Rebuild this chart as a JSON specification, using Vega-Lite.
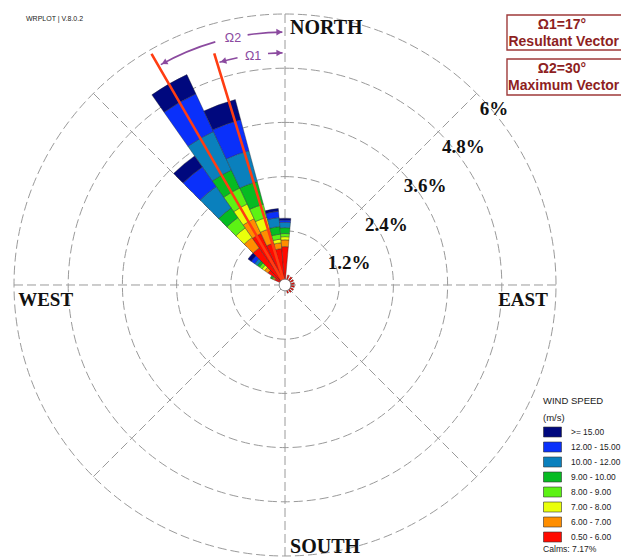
{
  "$schema": "https://vega.github.io/schema/vega-lite/v6.json",
  "width": 621,
  "height": 560,
  "autosize": "none",
  "padding": 0,
  "background": "white",
  "config": {"view": {"stroke": null}},
  "datasets": {
    "rings": [{"r": 1.2}, {"r": 2.4}, {"r": 3.6}, {"r": 4.8}, {"r": 6}],
    "spokes": [
      {"x": 0, "y": -6, "x2": 0, "y2": 6},
      {"x": -6, "y": 0, "x2": 6, "y2": 0},
      {"x": -4.2426, "y": -4.2426, "x2": 4.2426, "y2": 4.2426},
      {"x": -4.2426, "y": 4.2426, "x2": 4.2426, "y2": -4.2426}
    ],
    "petals": [
      {"a0": 325, "a1": 335, "r0": 0, "r1": 1.26, "speed": "0.50 - 6.00"},
      {"a0": 325, "a1": 335, "r0": 1.26, "r1": 1.62, "speed": "6.00 - 7.00"},
      {"a0": 325, "a1": 335, "r0": 1.62, "r1": 1.98, "speed": "7.00 - 8.00"},
      {"a0": 325, "a1": 335, "r0": 1.98, "r1": 2.37, "speed": "8.00 - 9.00"},
      {"a0": 325, "a1": 335, "r0": 2.37, "r1": 2.81, "speed": "9.00 - 10.00"},
      {"a0": 325, "a1": 335, "r0": 2.81, "r1": 3.75, "speed": "10.00 - 12.00"},
      {"a0": 325, "a1": 335, "r0": 3.75, "r1": 4.67, "speed": "12.00 - 15.00"},
      {"a0": 325, "a1": 335, "r0": 4.67, "r1": 5.14, "speed": ">= 15.00"},

      {"a0": 335, "a1": 345, "r0": 0, "r1": 0.96, "speed": "0.50 - 6.00"},
      {"a0": 335, "a1": 345, "r0": 0.96, "r1": 1.29, "speed": "6.00 - 7.00"},
      {"a0": 335, "a1": 345, "r0": 1.29, "r1": 1.55, "speed": "7.00 - 8.00"},
      {"a0": 335, "a1": 345, "r0": 1.55, "r1": 1.85, "speed": "8.00 - 9.00"},
      {"a0": 335, "a1": 345, "r0": 1.85, "r1": 2.37, "speed": "9.00 - 10.00"},
      {"a0": 335, "a1": 345, "r0": 2.37, "r1": 3.08, "speed": "10.00 - 12.00"},
      {"a0": 335, "a1": 345, "r0": 3.08, "r1": 3.79, "speed": "12.00 - 15.00"},
      {"a0": 335, "a1": 345, "r0": 3.79, "r1": 4.25, "speed": ">= 15.00"},

      {"a0": 315, "a1": 325, "r0": 0, "r1": 1.0, "speed": "0.50 - 6.00"},
      {"a0": 315, "a1": 325, "r0": 1.0, "r1": 1.28, "speed": "6.00 - 7.00"},
      {"a0": 315, "a1": 325, "r0": 1.28, "r1": 1.54, "speed": "7.00 - 8.00"},
      {"a0": 315, "a1": 325, "r0": 1.54, "r1": 1.82, "speed": "8.00 - 9.00"},
      {"a0": 315, "a1": 325, "r0": 1.82, "r1": 2.08, "speed": "9.00 - 10.00"},
      {"a0": 315, "a1": 325, "r0": 2.08, "r1": 2.66, "speed": "10.00 - 12.00"},
      {"a0": 315, "a1": 325, "r0": 2.66, "r1": 3.19, "speed": "12.00 - 15.00"},
      {"a0": 315, "a1": 325, "r0": 3.19, "r1": 3.49, "speed": ">= 15.00"},

      {"a0": 345, "a1": 355, "r0": 0, "r1": 0.81, "speed": "0.50 - 6.00"},
      {"a0": 345, "a1": 355, "r0": 0.81, "r1": 0.94, "speed": "6.00 - 7.00"},
      {"a0": 345, "a1": 355, "r0": 0.94, "r1": 1.02, "speed": "7.00 - 8.00"},
      {"a0": 345, "a1": 355, "r0": 1.02, "r1": 1.13, "speed": "8.00 - 9.00"},
      {"a0": 345, "a1": 355, "r0": 1.13, "r1": 1.3, "speed": "9.00 - 10.00"},
      {"a0": 345, "a1": 355, "r0": 1.3, "r1": 1.5, "speed": "10.00 - 12.00"},
      {"a0": 345, "a1": 355, "r0": 1.5, "r1": 1.64, "speed": "12.00 - 15.00"},
      {"a0": 345, "a1": 355, "r0": 1.64, "r1": 1.7, "speed": ">= 15.00"},

      {"a0": -5, "a1": 5, "r0": 0, "r1": 0.85, "speed": "0.50 - 6.00"},
      {"a0": -5, "a1": 5, "r0": 0.85, "r1": 1.0, "speed": "6.00 - 7.00"},
      {"a0": -5, "a1": 5, "r0": 1.0, "r1": 1.07, "speed": "7.00 - 8.00"},
      {"a0": -5, "a1": 5, "r0": 1.07, "r1": 1.14, "speed": "8.00 - 9.00"},
      {"a0": -5, "a1": 5, "r0": 1.14, "r1": 1.27, "speed": "9.00 - 10.00"},
      {"a0": -5, "a1": 5, "r0": 1.27, "r1": 1.39, "speed": "10.00 - 12.00"},
      {"a0": -5, "a1": 5, "r0": 1.39, "r1": 1.44, "speed": "12.00 - 15.00"},
      {"a0": -5, "a1": 5, "r0": 1.44, "r1": 1.48, "speed": ">= 15.00"},

      {"a0": 305, "a1": 315, "r0": 0, "r1": 0.46, "speed": "0.50 - 6.00"},
      {"a0": 305, "a1": 315, "r0": 0.46, "r1": 0.55, "speed": "6.00 - 7.00"},
      {"a0": 305, "a1": 315, "r0": 0.55, "r1": 0.62, "speed": "7.00 - 8.00"},
      {"a0": 305, "a1": 315, "r0": 0.62, "r1": 0.69, "speed": "8.00 - 9.00"},
      {"a0": 305, "a1": 315, "r0": 0.69, "r1": 0.75, "speed": "9.00 - 10.00"},
      {"a0": 305, "a1": 315, "r0": 0.75, "r1": 0.82, "speed": "10.00 - 12.00"},
      {"a0": 305, "a1": 315, "r0": 0.82, "r1": 0.91, "speed": "12.00 - 15.00"},
      {"a0": 305, "a1": 315, "r0": 0.91, "r1": 1.0, "speed": ">= 15.00"},

      {"a0": 295, "a1": 305, "r0": 0, "r1": 0.25, "speed": "0.50 - 6.00"},
      {"a0": 295, "a1": 305, "r0": 0.25, "r1": 0.28, "speed": "6.00 - 7.00"},
      {"a0": 295, "a1": 305, "r0": 0.28, "r1": 0.3, "speed": "7.00 - 8.00"},
      {"a0": 295, "a1": 305, "r0": 0.3, "r1": 0.32, "speed": "8.00 - 9.00"},
      {"a0": 295, "a1": 305, "r0": 0.32, "r1": 0.36, "speed": "9.00 - 10.00"},

      {"a0": 15, "a1": 25, "r0": 0, "r1": 0.23, "speed": "0.50 - 6.00"},
      {"a0": 35, "a1": 45, "r0": 0, "r1": 0.22, "speed": "0.50 - 6.00"},
      {"a0": 55, "a1": 65, "r0": 0, "r1": 0.21, "speed": "0.50 - 6.00"},
      {"a0": 75, "a1": 85, "r0": 0, "r1": 0.21, "speed": "0.50 - 6.00"},
      {"a0": 95, "a1": 105, "r0": 0, "r1": 0.21, "speed": "0.50 - 6.00"},
      {"a0": 115, "a1": 125, "r0": 0, "r1": 0.21, "speed": "0.50 - 6.00"},
      {"a0": 135, "a1": 145, "r0": 0, "r1": 0.2, "speed": "0.50 - 6.00"},
      {"a0": 155, "a1": 165, "r0": 0, "r1": 0.19, "speed": "0.50 - 6.00"}
    ],
    "vectors": [
      {"name": "Resultant", "bearing": 343, "len": 5.36},
      {"name": "Maximum", "bearing": 330, "len": 5.91}
    ],
    "calm": [{"r": 0.13}],
    "omegaArcs": [
      {"a0": 330.6, "a1": 344, "r": 5.6},
      {"a0": 351.5, "a1": 359.4, "r": 5.6},
      {"a0": 343.6, "a1": 348.2, "r": 5.14},
      {"a0": 355.8, "a1": 359.4, "r": 5.14}
    ],
    "arrowHeads": [
      {"x": -0.127, "y": 5.5986, "angle": 358.7},
      {"x": -2.6724, "y": 4.9215, "angle": 151.5},
      {"x": -0.1256, "y": 5.1385, "angle": 358.6},
      {"x": -1.365, "y": 4.9556, "angle": 164.6}
    ],
    "omegaText": [
      {"x": -1.151, "y": 5.469, "text": "Ω2"},
      {"x": -0.708, "y": 5.07, "text": "Ω1"}
    ],
    "pctText": [
      {"x": 1.417, "y": 0.487, "text": "1.2%"},
      {"x": 2.247, "y": 1.328, "text": "2.4%"},
      {"x": 3.1, "y": 2.192, "text": "3.6%"},
      {"x": 3.952, "y": 3.055, "text": "4.8%"},
      {"x": 4.627, "y": 3.897, "text": "6%"}
    ],
    "compassLeft": [
      {"x": 0.111, "y": 5.69, "text": "NORTH"},
      {"x": 0.111, "y": -5.801, "text": "SOUTH"}
    ],
    "compassMid": [
      {"x": -5.3, "y": -0.332, "text": "WEST"},
      {"x": 5.269, "y": -0.332, "text": "EAST"}
    ],
    "boxes": [
      {"x": 4.915, "x2": 7.6, "y": 5.978, "y2": 5.203},
      {"x": 4.915, "x2": 7.6, "y": 5.004, "y2": 4.207}
    ],
    "boxText": [
      {"x": 6.13, "y": 5.756, "text": "Ω1=17°"},
      {"x": 6.17, "y": 5.38, "text": "Resultant Vector"},
      {"x": 6.13, "y": 4.793, "text": "Ω2=30°"},
      {"x": 6.17, "y": 4.406, "text": "Maximum Vector"}
    ],
    "smallText": [
      {"x": -5.734, "y": 5.889, "text": "WRPLOT | V.8.0.2", "size": 7},
      {"x": 5.712, "y": -5.845, "text": "Calms: 7.17%", "size": 8.6}
    ]
  },
  "layer": [
    {
      "data": {"name": "rings"},
      "mark": {"type": "arc", "theta": 0, "theta2": 6.2832, "fill": null, "stroke": "#9a9a9a", "strokeWidth": 1, "strokeDash": [9, 4]},
      "encoding": {
        "x": {"datum": 0, "type": "quantitative", "scale": {"domain": [-6.31, 7.4391], "nice": false, "zero": false}, "axis": null},
        "y": {"datum": 0, "type": "quantitative", "scale": {"domain": [-6.0886, 6.31], "nice": false, "zero": false}, "axis": null},
        "radius": {"field": "r", "type": "quantitative", "stack": null, "scale": {"type": "linear", "domain": [0, 6], "range": [0, 271], "nice": false, "zero": true}}
      }
    },
    {
      "data": {"name": "spokes"},
      "mark": {"type": "rule", "stroke": "#9a9a9a", "strokeWidth": 1, "strokeDash": [9, 4]},
      "encoding": {
        "x": {"field": "x", "type": "quantitative", "scale": {"domain": [-6.31, 7.4391], "nice": false, "zero": false}, "axis": null},
        "y": {"field": "y", "type": "quantitative", "scale": {"domain": [-6.0886, 6.31], "nice": false, "zero": false}, "axis": null},
        "x2": {"field": "x2"},
        "y2": {"field": "y2"}
      }
    },
    {
      "data": {"name": "petals"},
      "mark": {"type": "arc", "stroke": "#2a2a2a", "strokeWidth": 0.4},
      "encoding": {
        "x": {"datum": 0, "type": "quantitative", "scale": {"domain": [-6.31, 7.4391], "nice": false, "zero": false}, "axis": null},
        "y": {"datum": 0, "type": "quantitative", "scale": {"domain": [-6.0886, 6.31], "nice": false, "zero": false}, "axis": null},
        "theta": {"field": "a0", "type": "quantitative", "stack": null, "scale": {"domain": [0, 360], "range": [0, 6.283185307179586], "nice": false, "zero": false}},
        "theta2": {"field": "a1"},
        "radius": {"field": "r1", "type": "quantitative", "stack": null, "scale": {"type": "linear", "domain": [0, 6], "range": [0, 271], "nice": false, "zero": true}},
        "radius2": {"field": "r0"},
        "color": {
          "field": "speed",
          "type": "nominal",
          "scale": {
            "domain": [">= 15.00", "12.00 - 15.00", "10.00 - 12.00", "9.00 - 10.00", "8.00 - 9.00", "7.00 - 8.00", "6.00 - 7.00", "0.50 - 6.00"],
            "range": ["#00087e", "#0a30fa", "#0a80bd", "#06bb22", "#5cf214", "#eaff0a", "#ff8e00", "#ff0a00"]
          },
          "legend": {
            "orient": "none",
            "legendX": 543,
            "legendY": 396,
            "title": ["WIND SPEED", "(m/s)"],
            "titleFont": "Liberation Sans",
            "titleFontSize": 9.5,
            "titleFontWeight": "normal",
            "titleColor": "#1a1a1a",
            "titleLineHeight": 17,
            "titlePadding": 4,
            "labelFont": "Liberation Sans",
            "labelFontSize": 8.4,
            "labelColor": "#1a1a1a",
            "labelOffset": 17,
            "symbolType": "M-1,-1H2.6V1H-1Z",
            "symbolSize": 100,
            "symbolStrokeColor": "#333333",
            "symbolStrokeWidth": 0.6,
            "symbolOpacity": 1,
            "rowPadding": 2,
            "padding": 0
          }
        }
      }
    },
    {
      "data": {"name": "vectors"},
      "mark": {"type": "arc", "fill": null, "stroke": "#ff3d12", "strokeWidth": 2.6},
      "encoding": {
        "x": {"datum": 0, "type": "quantitative", "scale": {"domain": [-6.31, 7.4391], "nice": false, "zero": false}, "axis": null},
        "y": {"datum": 0, "type": "quantitative", "scale": {"domain": [-6.0886, 6.31], "nice": false, "zero": false}, "axis": null},
        "theta": {"field": "bearing", "type": "quantitative", "stack": null, "scale": {"domain": [0, 360], "range": [0, 6.283185307179586], "nice": false, "zero": false}},
        "theta2": {"field": "bearing"},
        "radius": {"field": "len", "type": "quantitative", "stack": null, "scale": {"type": "linear", "domain": [0, 6], "range": [0, 271], "nice": false, "zero": true}},
        "radius2": {"datum": 0}
      }
    },
    {
      "data": {"name": "calm"},
      "mark": {"type": "arc", "theta": 0, "theta2": 6.2832, "fill": "white", "stroke": "#777777", "strokeWidth": 0.8},
      "encoding": {
        "x": {"datum": 0, "type": "quantitative", "scale": {"domain": [-6.31, 7.4391], "nice": false, "zero": false}, "axis": null},
        "y": {"datum": 0, "type": "quantitative", "scale": {"domain": [-6.0886, 6.31], "nice": false, "zero": false}, "axis": null},
        "radius": {"field": "r", "type": "quantitative", "stack": null, "scale": {"type": "linear", "domain": [0, 6], "range": [0, 271], "nice": false, "zero": true}}
      }
    },
    {
      "data": {"name": "omegaArcs"},
      "mark": {"type": "arc", "fill": null, "stroke": "#8b4a9f", "strokeWidth": 1.6},
      "encoding": {
        "x": {"datum": 0, "type": "quantitative", "scale": {"domain": [-6.31, 7.4391], "nice": false, "zero": false}, "axis": null},
        "y": {"datum": 0, "type": "quantitative", "scale": {"domain": [-6.0886, 6.31], "nice": false, "zero": false}, "axis": null},
        "theta": {"field": "a0", "type": "quantitative", "stack": null, "scale": {"domain": [0, 360], "range": [0, 6.283185307179586], "nice": false, "zero": false}},
        "theta2": {"field": "a1"},
        "radius": {"field": "r", "type": "quantitative", "stack": null, "scale": {"type": "linear", "domain": [0, 6], "range": [0, 271], "nice": false, "zero": true}},
        "radius2": {"field": "r"}
      }
    },
    {
      "data": {"name": "arrowHeads"},
      "mark": {"type": "point", "shape": "triangle-right", "filled": true, "color": "#8b4a9f", "size": 45, "opacity": 1},
      "encoding": {
        "x": {"field": "x", "type": "quantitative", "scale": {"domain": [-6.31, 7.4391], "nice": false, "zero": false}, "axis": null},
        "y": {"field": "y", "type": "quantitative", "scale": {"domain": [-6.0886, 6.31], "nice": false, "zero": false}, "axis": null},
        "angle": {"field": "angle", "type": "quantitative", "scale": null}
      }
    },
    {
      "data": {"name": "omegaText"},
      "mark": {"type": "text", "font": "Liberation Sans", "fontSize": 12.5, "color": "#8b4a9f", "align": "center", "baseline": "middle"},
      "encoding": {
        "x": {"field": "x", "type": "quantitative", "scale": {"domain": [-6.31, 7.4391], "nice": false, "zero": false}, "axis": null},
        "y": {"field": "y", "type": "quantitative", "scale": {"domain": [-6.0886, 6.31], "nice": false, "zero": false}, "axis": null},
        "text": {"field": "text"}
      }
    },
    {
      "data": {"name": "pctText"},
      "mark": {"type": "text", "font": "Liberation Serif", "fontSize": 19, "fontWeight": "bold", "color": "#111111", "align": "center", "baseline": "middle"},
      "encoding": {
        "x": {"field": "x", "type": "quantitative", "scale": {"domain": [-6.31, 7.4391], "nice": false, "zero": false}, "axis": null},
        "y": {"field": "y", "type": "quantitative", "scale": {"domain": [-6.0886, 6.31], "nice": false, "zero": false}, "axis": null},
        "text": {"field": "text"}
      }
    },
    {
      "data": {"name": "compassLeft"},
      "mark": {"type": "text", "font": "Liberation Serif", "fontSize": 20, "fontWeight": "bold", "color": "#111111", "align": "left", "baseline": "middle"},
      "encoding": {
        "x": {"field": "x", "type": "quantitative", "scale": {"domain": [-6.31, 7.4391], "nice": false, "zero": false}, "axis": null},
        "y": {"field": "y", "type": "quantitative", "scale": {"domain": [-6.0886, 6.31], "nice": false, "zero": false}, "axis": null},
        "text": {"field": "text"}
      }
    },
    {
      "data": {"name": "compassMid"},
      "mark": {"type": "text", "font": "Liberation Serif", "fontSize": 19, "fontWeight": "bold", "color": "#111111", "align": "center", "baseline": "middle"},
      "encoding": {
        "x": {"field": "x", "type": "quantitative", "scale": {"domain": [-6.31, 7.4391], "nice": false, "zero": false}, "axis": null},
        "y": {"field": "y", "type": "quantitative", "scale": {"domain": [-6.0886, 6.31], "nice": false, "zero": false}, "axis": null},
        "text": {"field": "text"}
      }
    },
    {
      "data": {"name": "boxes"},
      "mark": {"type": "rect", "fill": null, "stroke": "#9e3a3a", "strokeWidth": 1.4, "clip": true},
      "encoding": {
        "x": {"field": "x", "type": "quantitative", "scale": {"domain": [-6.31, 7.4391], "nice": false, "zero": false}, "axis": null},
        "y": {"field": "y", "type": "quantitative", "scale": {"domain": [-6.0886, 6.31], "nice": false, "zero": false}, "axis": null},
        "x2": {"field": "x2"},
        "y2": {"field": "y2"}
      }
    },
    {
      "data": {"name": "boxText"},
      "mark": {"type": "text", "font": "Liberation Sans", "fontSize": 14, "fontWeight": "bold", "color": "#8e1f1f", "align": "center", "baseline": "middle"},
      "encoding": {
        "x": {"field": "x", "type": "quantitative", "scale": {"domain": [-6.31, 7.4391], "nice": false, "zero": false}, "axis": null},
        "y": {"field": "y", "type": "quantitative", "scale": {"domain": [-6.0886, 6.31], "nice": false, "zero": false}, "axis": null},
        "text": {"field": "text"}
      }
    },
    {
      "data": {"name": "smallText"},
      "mark": {"type": "text", "font": "Liberation Sans", "color": "#222222", "align": "left", "baseline": "middle"},
      "encoding": {
        "x": {"field": "x", "type": "quantitative", "scale": {"domain": [-6.31, 7.4391], "nice": false, "zero": false}, "axis": null},
        "y": {"field": "y", "type": "quantitative", "scale": {"domain": [-6.0886, 6.31], "nice": false, "zero": false}, "axis": null},
        "text": {"field": "text"},
        "size": {"field": "size", "type": "quantitative", "scale": null}
      }
    }
  ]
}
